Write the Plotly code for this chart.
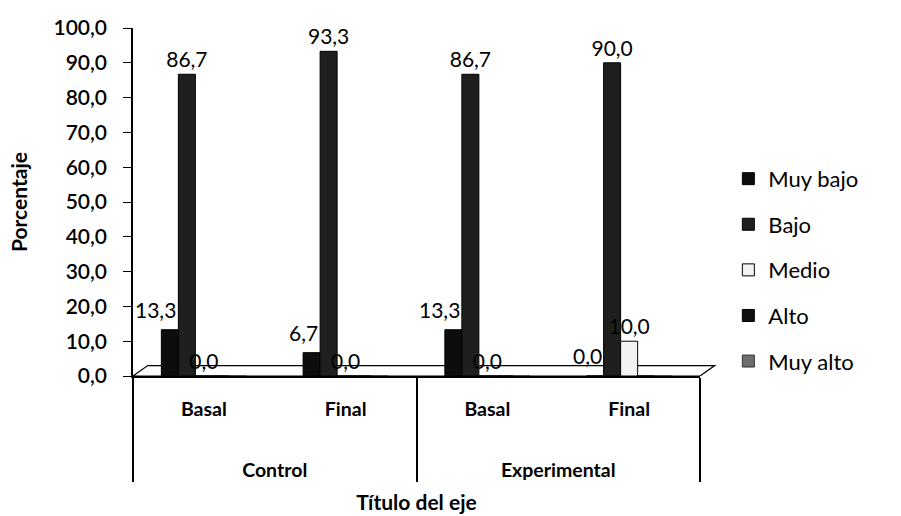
import plotly.graph_objects as go

grupos = ["Control", "Control", "Experimental", "Experimental"]
momentos = ["Basal", "Final", "Basal", "Final"]
series = ["Muy bajo", "Bajo", "Medio", "Alto", "Muy alto"]
muy_bajo = [13.3, 6.7, 13.3, 0.0]
bajo = [86.7, 93.3, 86.7, 90.0]
medio = [0.0, 0.0, 0.0, 10.0]
alto = [0.0, 0.0, 0.0, 0.0]
muy_alto = [0.0, 0.0, 0.0, 0.0]
valores = [muy_bajo, bajo, medio, alto, muy_alto]
mostrar_texto = [False, True, True, False, False]
colores = ["#0d0d0d", "#1f1f1f", "#f2f2f2", "#111111", "#6e6e6e"]
bordes = ["#000000", "#000000", "#000000", "#000000", "#333333"]

FONT = "Lato"
BARGAP = 0.4


def fmt(v):
    return f"{v:.1f}".replace(".", ",")


# multicategory labels (blank lines on the outer row space the rows like the original)
x_cat = [["<br><br>" + g for g in grupos], momentos]

fig = go.Figure()
for i, (nombre, vals) in enumerate(zip(series, valores)):
    fig.add_trace(go.Bar(
        name=nombre,
        x=x_cat,
        y=vals,
        marker=dict(color=colores[i], line=dict(color=bordes[i], width=1)),
        text=[fmt(v) for v in vals] if mostrar_texto[i] else None,
        textposition="outside",
        constraintext="none",
        cliponaxis=False,
        textfont=dict(family=FONT, size=21, color="black"),
        legendgroup=nombre,
    ))

# labels of the first series, right-aligned to its bar (drawn above the bars)
ancho_barra = (1 - BARGAP) / len(series)
for j, v in enumerate(muy_bajo):
    xc = j - 2 * ancho_barra + ancho_barra / 2
    fig.add_annotation(x=xc, y=v, xref="x", yref="y", text=fmt(v),
                       showarrow=False, xanchor="right", yanchor="bottom", yshift=6,
                       font=dict(family=FONT, size=21, color="black"))

fig.update_layout(
    width=901, height=516,
    margin=dict(l=133, r=201, t=28, b=140),
    paper_bgcolor="white", plot_bgcolor="white",
    separators=",.",
    barmode="group", bargap=BARGAP, bargroupgap=0,
    font=dict(family=FONT, size=18, color="black"),
    showlegend=True,
    legend=dict(x=1.05, xanchor="left", y=0.305, yanchor="middle",
                font=dict(family=FONT, size=22, color="black"),
                tracegroupgap=14, itemwidth=30, bgcolor="rgba(0,0,0,0)"),
)
fig.update_yaxes(
    range=[0, 100], dtick=10, tickformat=".1f",
    automargin=False,
    showgrid=False, zeroline=False,
    showline=True, linecolor="black", linewidth=1.5,
    ticks="outside", ticklen=8, tickcolor="black",
    ticklabelstandoff=12,
    tickfont=dict(family=FONT, size=21, color="black", weight=600),
    title=dict(text="Porcentaje", font=dict(family=FONT, size=21, color="black", weight="bold"), standoff=20),
)
fig.update_xaxes(
    type="multicategory",
    automargin=False,
    showgrid=False, showline=True, linecolor="black", linewidth=1.5,
    ticklabelstandoff=15,
    showdividers=True, dividercolor="black", dividerwidth=1.5,
    tickfont=dict(family=FONT, size=19.5, color="black", weight="bold"),
    title=dict(text="Título del eje", font=dict(family=FONT, size=21, color="black", weight="bold"), standoff=15),
)
# 3D-style floor outline
fig.add_shape(type="path", xref="x domain", yref="y",
              path="M 0,0 L 0.026,3 L 1.026,3 L 1,0 Z",
              line=dict(color="black", width=1.2), fillcolor="rgba(0,0,0,0)", layer="below")

fig.write_html("out.html")
